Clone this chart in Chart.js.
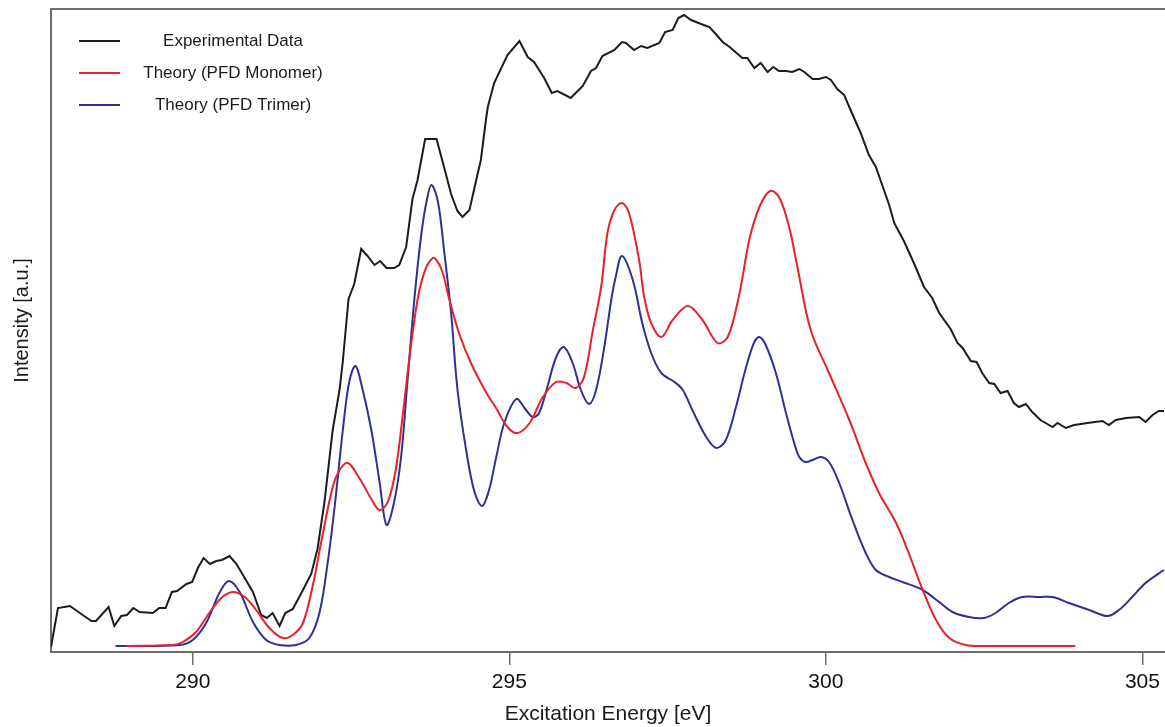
<!DOCTYPE html>
<html>
<head>
<meta charset="utf-8">
<script src="https://cdn.jsdelivr.net/npm/chart.js@4/dist/chart.umd.min.js"></script>
<style>
html,body{margin:0;padding:0;background:#fff;overflow:hidden;}
#wrap{width:1165px;height:727px;}
</style>
</head>
<body>
<div id="wrap"><canvas id="c" width="1165" height="727"></canvas></div>
<script>
// ---- Data ----
const seriesLabels = ['Experimental Data', 'Theory (PFD Monomer)', 'Theory (PFD Trimer)'];
const yTitle = 'Intensity [a.u.]';
const xTicks = [290, 295, 300, 305];

const expE = [287.76,287.87,288.06,288.26,288.40,288.47,288.67,288.76,288.87,288.96,289.06,289.16,289.37,289.47,289.57,289.67,289.75,289.90,289.99,290.08,290.17,290.27,290.37,290.46,290.58,290.69,290.82,290.95,291.08,291.17,291.26,291.37,291.46,291.58,291.74,291.87,291.97,292.08,292.21,292.32,292.37,292.46,292.55,292.66,292.76,292.87,292.96,293.06,293.18,293.26,293.37,293.47,293.55,293.67,293.85,293.96,294.08,294.18,294.26,294.37,294.47,294.55,294.63,294.66,294.76,294.97,295.16,295.29,295.39,295.55,295.67,295.76,295.97,296.16,296.29,296.37,296.47,296.66,296.78,296.84,296.97,297.08,297.18,297.37,297.46,297.58,297.67,297.76,297.87,298.03,298.16,298.26,298.37,298.48,298.68,298.76,298.87,298.97,299.08,299.17,299.26,299.37,299.47,299.58,299.66,299.79,299.89,300.00,300.08,300.18,300.29,300.39,300.55,300.68,300.79,300.89,301.00,301.08,301.24,301.39,301.55,301.68,301.79,301.97,302.08,302.16,302.29,302.38,302.47,302.58,302.66,302.76,302.87,302.97,303.05,303.16,303.26,303.39,303.47,303.58,303.66,303.79,303.92,304.03,304.13,304.37,304.47,304.58,304.74,304.95,305.05,305.16,305.26,305.34];
const expI = [5,44,46,37,31,31,45,26,36,37,44,40,39,44,44,60,61,68,70,84,94,88,91,92,96,88,74,60,37,34,39,26,39,43,62,78,103,150,222,263,291,353,368,403,396,387,391,384,384,387,405,453,472,513,513,487,458,441,435,442,470,492,532,545,569,597,611,595,590,574,559,561,554,566,581,584,596,602,610,609,602,606,604,609,620,622,634,637,632,628,625,618,610,605,594,594,584,589,580,585,581,581,580,583,580,573,573,575,572,563,557,542,519,497,485,467,447,429,410,389,365,354,339,323,309,304,291,290,279,269,268,259,261,249,245,248,240,232,229,225,229,224,227,228,229,231,227,232,234,235,230,237,241,241];

const monoE = [288.95,289.68,289.84,290.05,290.26,290.45,290.63,290.82,291.00,291.21,291.42,291.58,291.74,291.89,292.05,292.21,292.32,292.45,292.63,292.82,292.95,293.08,293.21,293.34,293.47,293.61,293.79,293.92,294.05,294.21,294.40,294.63,294.79,294.97,295.13,295.32,295.53,295.74,295.90,296.05,296.18,296.32,296.45,296.55,296.66,296.78,296.89,297.05,297.13,297.24,297.40,297.58,297.82,298.05,298.29,298.45,298.63,298.79,298.95,299.12,299.26,299.42,299.55,299.76,300.05,300.37,300.63,300.84,301.11,301.29,301.53,301.74,301.95,302.21,302.53,303.94];
const monoI = [6,7,10,20,39,54,60,55,42,24,14,17,29,65,117,165,182,189,174,153,142,150,184,250,318,370,394,384,353,318,288,260,244,225,219,229,255,270,269,264,275,322,365,419,442,449,439,392,355,329,315,332,346,332,309,315,357,412,445,461,455,425,385,322,279,232,189,159,129,102,62,32,14,7,6,6];

const triE = [288.78,289.79,290.00,290.21,290.42,290.57,290.74,290.95,291.16,291.37,291.63,291.84,292.00,292.13,292.24,292.37,292.47,292.57,292.68,292.82,292.95,293.06,293.18,293.29,293.39,293.50,293.61,293.70,293.77,293.87,293.97,294.08,294.18,294.32,294.45,294.57,294.68,294.79,294.92,295.11,295.24,295.37,295.47,295.60,295.74,295.86,296.00,296.13,296.26,296.37,296.50,296.61,296.68,296.78,296.95,297.10,297.24,297.40,297.61,297.74,297.89,298.11,298.27,298.42,298.58,298.74,298.87,298.95,299.05,299.21,299.37,299.50,299.58,299.68,299.79,299.92,300.05,300.21,300.42,300.63,300.79,301.00,301.21,301.53,301.79,302.00,302.26,302.50,302.68,302.89,303.10,303.37,303.58,303.84,304.16,304.45,304.63,304.84,305.05,305.34];
const triI = [6,7,12,29,59,71,60,30,12,7,7,14,39,89,145,222,270,286,263,222,170,127,150,195,270,353,418,453,467,451,401,339,263,201,160,146,162,194,229,253,244,235,239,265,295,305,289,262,248,262,305,352,375,396,372,329,299,279,270,262,242,215,204,212,245,285,310,315,307,279,239,209,195,190,192,195,190,169,132,99,82,75,70,62,50,40,35,34,39,49,55,55,55,49,42,36,42,55,69,82];

const colors = ['#1c1c1c', '#e8212b', '#2e3192'];
const FONT = "'Liberation Sans', Arial, Helvetica, sans-serif";

function pts(xs, ys) { return xs.map((x, i) => ({ x: x, y: ys[i] })); }

const frameAndLegend = {
  id: 'frameAndLegend',
  afterDraw(chart) {
    const { ctx, chartArea: a } = chart;
    ctx.save();
    // top frame line
    ctx.strokeStyle = '#6e6e6e';
    ctx.lineWidth = 2;
    ctx.beginPath();
    ctx.moveTo(a.left - 1, a.top);
    ctx.lineTo(a.right, a.top);
    ctx.stroke();
    // y axis title
    ctx.save();
    ctx.translate(22, (a.top + a.bottom) / 2 - 10);
    ctx.rotate(-Math.PI / 2);
    ctx.font = '20px ' + FONT;
    ctx.fillStyle = '#1a1a1a';
    ctx.textAlign = 'center';
    ctx.textBaseline = 'middle';
    ctx.fillText(yTitle, 0, 0);
    ctx.restore();
    // legend
    ctx.font = '17px ' + FONT;
    ctx.textAlign = 'center';
    ctx.textBaseline = 'middle';
    chart.data.datasets.forEach((ds, i) => {
      const y = a.top + 32 + i * 32;
      ctx.strokeStyle = ds.borderColor;
      ctx.lineWidth = 2;
      ctx.beginPath();
      ctx.moveTo(a.left + 28, y);
      ctx.lineTo(a.left + 69, y);
      ctx.stroke();
      ctx.fillStyle = '#1a1a1a';
      ctx.fillText(ds.label, a.left + 182, y);
    });
    ctx.restore();
  }
};

new Chart(document.getElementById('c'), {
  type: 'line',
  data: {
    datasets: [
      { label: seriesLabels[0], data: pts(expE, expI), borderColor: colors[0], borderWidth: 2, pointRadius: 0, tension: 0, order: 3 },
      { label: seriesLabels[1], data: pts(monoE, monoI), borderColor: colors[1], borderWidth: 2, pointRadius: 0, tension: 0.35, order: 1 },
      { label: seriesLabels[2], data: pts(triE, triI), borderColor: colors[2], borderWidth: 2, pointRadius: 0, tension: 0.35, order: 2 }
    ]
  },
  options: {
    responsive: false,
    animation: false,
    layout: { padding: { top: 9, right: 0, left: 0, bottom: 0 } },
    plugins: { legend: { display: false }, tooltip: { enabled: false } },
    scales: {
      x: {
        type: 'linear',
        min: 287.76,
        max: 305.357,
        afterBuildTicks: (s) => { s.ticks = xTicks.map(v => ({ value: v })); },
        afterFit: (s) => { s.height = 75; },
        grid: { display: true, drawOnChartArea: false, drawTicks: true, tickLength: 13, color: '#6e6e6e', lineWidth: 1.5 },
        border: { display: true, color: '#6e6e6e', width: 2 },
        ticks: { padding: 5, color: '#111', font: { family: FONT, size: 21 }, maxRotation: 0, callback: (v) => String(v) },
        title: { display: true, text: 'Excitation Energy [eV]', color: '#1a1a1a', font: { family: FONT, size: 21 }, padding: { top: 0, bottom: 0 } }
      },
      y: {
        min: 0,
        max: 643,
        afterFit: (s) => { s.width = 51; },
        grid: { display: false },
        border: { display: true, color: '#6e6e6e', width: 2 },
        ticks: { display: false },
        title: { display: false }
      }
    }
  },
  plugins: [frameAndLegend]
});
</script>
</body>
</html>
